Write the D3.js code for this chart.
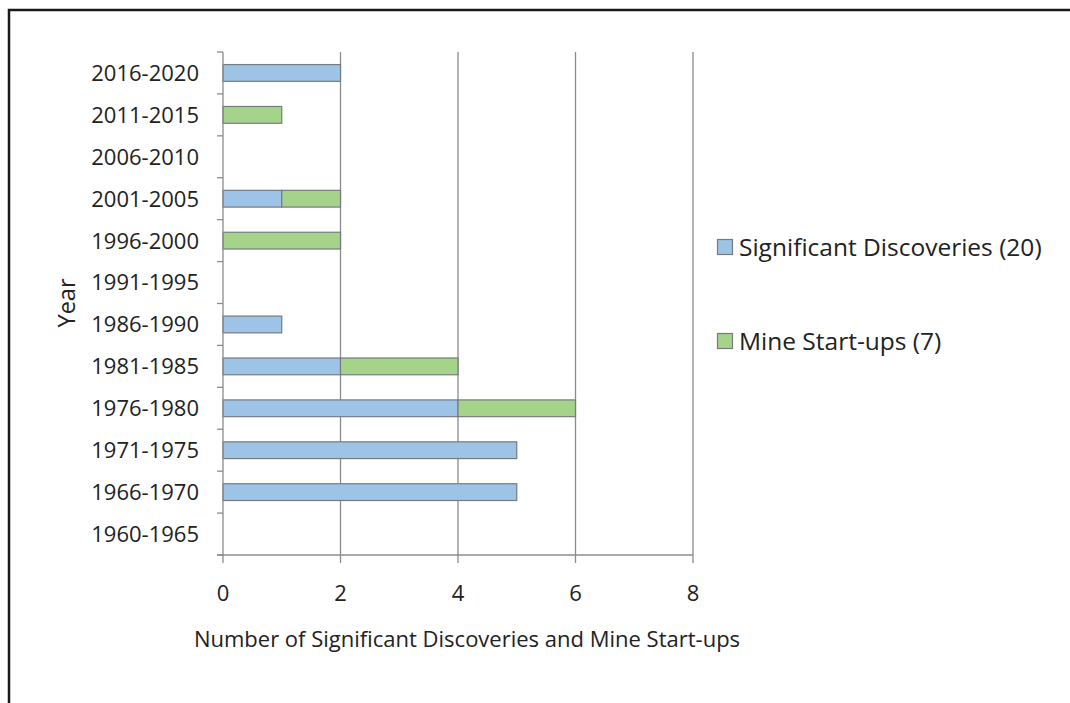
<!DOCTYPE html>
<html>
<head>
<meta charset="utf-8">
<script src="https://cdn.jsdelivr.net/npm/d3@7"></script>
<style>
  html, body { margin: 0; padding: 0; background: #fff; }
  svg { display: block; }
  text { font-family: "Open Sans", Lato, sans-serif; fill: #222; }
</style>
</head>
<body>
<svg id="chart" width="1070" height="703"></svg>
<script>
// Five-year periods, top to bottom
const periods = ["2016-2020", "2011-2015", "2006-2010", "2001-2005", "1996-2000", "1991-1995",
                 "1986-1990", "1981-1985", "1976-1980", "1971-1975", "1966-1970", "1960-1965"];
const discoveries = [2, 0, 0, 1, 0, 0, 1, 2, 4, 5, 5, 0];
const startups    = [0, 1, 0, 1, 2, 0, 0, 2, 2, 0, 0, 0];
const seriesNames = ["Significant Discoveries (20)", "Mine Start-ups (7)"];
const xTicks = [0, 2, 4, 6, 8];

const colors = ["#9dc3e6", "#a5d38a"];

const svg = d3.select("#chart");

// outer frame
svg.append("rect")
  .attr("x", 9).attr("y", 10).attr("width", 1080).attr("height", 720)
  .attr("fill", "none").attr("stroke", "#1a1a1a").attr("stroke-width", 2.5);

const plot = { left: 223, right: 693, top: 52, bottom: 555 };

const x = d3.scaleLinear().domain([0, 8]).range([plot.left, plot.right]);
const y = d3.scaleBand().domain(periods).range([plot.top, plot.bottom]).paddingInner(0.6).paddingOuter(0.3);
const yEdge = d3.scaleBand().domain(periods).range([plot.top, plot.bottom]);

// vertical gridlines
svg.append("g").selectAll("line")
  .data(xTicks.filter(d => d > 0))
  .join("line")
  .attr("x1", d => x(d)).attr("x2", d => x(d))
  .attr("y1", plot.top).attr("y2", plot.bottom)
  .attr("stroke", "#8c8c8c").attr("stroke-width", 1.3);

// stacked bars
const rows = periods.map((p, i) => ({ period: p, vals: [discoveries[i], startups[i]] }));
const segs = [];
rows.forEach(r => {
  let acc = 0;
  r.vals.forEach((v, k) => {
    if (v > 0) segs.push({ period: r.period, x0: acc, x1: acc + v, k });
    acc += v;
  });
});
svg.append("g").selectAll("rect")
  .data(segs)
  .join("rect")
  .attr("x", d => x(d.x0))
  .attr("y", d => y(d.period))
  .attr("width", d => x(d.x1) - x(d.x0))
  .attr("height", y.bandwidth())
  .attr("fill", d => colors[d.k])
  .attr("stroke", "#767b80").attr("stroke-width", 1.2);

// y axis: line, boundary ticks, labels
const yAxis = svg.append("g");
yAxis.append("line")
  .attr("x1", plot.left).attr("x2", plot.left)
  .attr("y1", plot.top).attr("y2", plot.bottom)
  .attr("stroke", "#8c8c8c").attr("stroke-width", 1.3);
const edges = periods.map(p => yEdge(p)).concat([plot.bottom]);
yAxis.selectAll("line.tick")
  .data(edges)
  .join("line").attr("class", "tick")
  .attr("x1", plot.left - 6).attr("x2", plot.left)
  .attr("y1", d => d).attr("y2", d => d)
  .attr("stroke", "#8c8c8c").attr("stroke-width", 1.3);
yAxis.selectAll("text")
  .data(periods)
  .join("text")
  .attr("x", 199)
  .attr("y", d => yEdge(d) + yEdge.bandwidth() / 2)
  .attr("dy", "0.36em")
  .attr("text-anchor", "end")
  .attr("font-size", 22)
  .text(d => d);

// x axis
const xAxis = svg.append("g");
xAxis.append("line")
  .attr("x1", plot.left - 6).attr("x2", plot.right)
  .attr("y1", plot.bottom).attr("y2", plot.bottom)
  .attr("stroke", "#8c8c8c").attr("stroke-width", 1.3);
xAxis.selectAll("line.tick")
  .data(xTicks)
  .join("line").attr("class", "tick")
  .attr("x1", d => x(d)).attr("x2", d => x(d))
  .attr("y1", plot.bottom).attr("y2", plot.bottom + 8)
  .attr("stroke", "#8c8c8c").attr("stroke-width", 1.3);
xAxis.selectAll("text")
  .data(xTicks)
  .join("text")
  .attr("x", d => x(d))
  .attr("y", 601)
  .attr("text-anchor", "middle")
  .attr("font-size", 22)
  .text(d => d);

// axis titles
svg.append("text")
  .attr("x", 467).attr("y", 647)
  .attr("text-anchor", "middle")
  .attr("font-size", 22)
  .text("Number of Significant Discoveries and Mine Start-ups");
svg.append("text")
  .attr("transform", "translate(75,303) rotate(-90)")
  .attr("text-anchor", "middle")
  .attr("font-size", 23.5)
  .text("Year");

// legend
const legend = svg.append("g");
const legendY = [247, 341];
seriesNames.forEach((name, i) => {
  legend.append("rect")
    .attr("x", 717.5).attr("y", legendY[i] - 7.5)
    .attr("width", 15).attr("height", 15)
    .attr("fill", colors[i]).attr("stroke", "#767b80").attr("stroke-width", 1.2);
  legend.append("text")
    .attr("x", 739).attr("y", legendY[i])
    .attr("dy", "0.36em")
    .attr("font-size", 24.5)
    .text(name);
});
</script>
</body>
</html>
